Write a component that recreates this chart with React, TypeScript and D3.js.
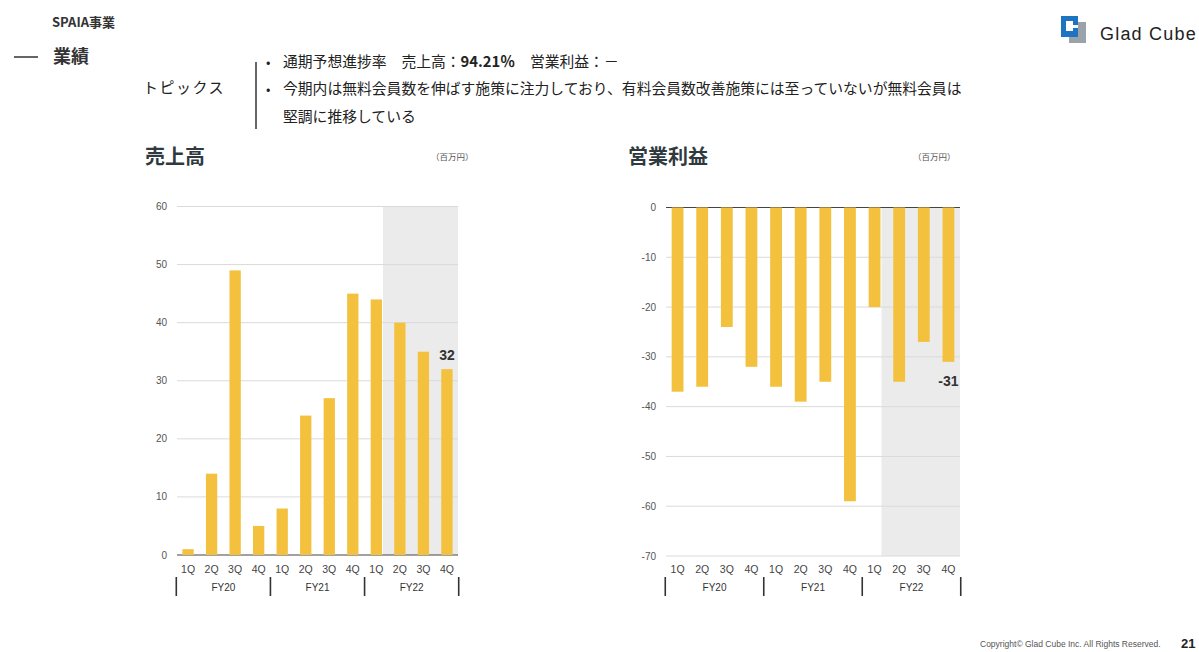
import React from "react";
import * as d3 from "d3";

const quarters = ["1Q", "2Q", "3Q", "4Q", "1Q", "2Q", "3Q", "4Q", "1Q", "2Q", "3Q", "4Q"];
const fiscalYears = ["FY20", "FY21", "FY22"];
const salesValues = [1, 14, 49, 5, 8, 24, 27, 45, 44, 40, 35, 32];
const profitValues = [-37, -36, -24, -32, -36, -39, -35, -59, -20, -35, -27, -31];
const salesTicks = [0, 10, 20, 30, 40, 50, 60];
const profitTicks = [0, -10, -20, -30, -40, -50, -60, -70];

const BAR = "#F3C13E";
const SHADE = "#EBEBEB";
const GRID = "#DADADA";
const JP = "'Noto Sans CJK JP', 'Noto Sans', sans-serif";
const LAT = "'Liberation Sans', Arial, sans-serif";

type ChartProps = {
  title: string;
  titleX: number;
  unitX: number;
  values: number[];
  ticks: number[];
  yDomain: [number, number];
  yRange: [number, number];
  xRange: [number, number];
  tickX: number;
};

function indices(v: number[]) {
  return v.map((_, i) => i);
}

function Chart(p: ChartProps) {
  const x = d3.scaleBand<number>().domain(indices(p.values)).range(p.xRange).paddingInner(0.52).paddingOuter(0.23);
  const y = d3.scaleLinear().domain(p.yDomain).range(p.yRange);
  const bw = x.bandwidth();
  const gap = x.step() - bw;
  const left = p.xRange[0];
  const right = p.xRange[1];
  const top = Math.min(...p.yRange);
  const bottom = Math.max(...p.yRange);
  const shadeX = (x(8) as number) + bw + 1;
  const seps = [
    (x(0) as number) - gap / 2,
    ((x(3) as number) + bw + (x(4) as number)) / 2,
    ((x(7) as number) + bw + (x(8) as number)) / 2,
    (x(11) as number) + bw + gap / 2,
  ];
  const last = p.values.length - 1;
  const lastV = p.values[last];
  const lastCx = (x(last) as number) + bw / 2;
  return (
    <g>
      <text x={p.titleX} y={164} fontFamily={JP} fontWeight={700} fontSize={20} fill="#2f3a40">{p.title}</text>
      <text x={p.unitX} y={160} fontFamily={JP} fontSize={8.5} fill="#555">（百万円）</text>
      <rect x={shadeX} y={top} width={right - shadeX} height={bottom - top} fill={SHADE} />
      {p.ticks.map((t) => (
        <g key={t}>
          <line x1={left} x2={right} y1={y(t)} y2={y(t)} stroke={t === 0 ? "#444" : GRID} strokeWidth={t === 0 ? 1.2 : 1} />
          <text x={p.tickX} y={y(t) + 3.5} textAnchor="end" fontFamily={LAT} fontSize={10} fill="#555">{t}</text>
        </g>
      ))}
      {p.values.map((v, i) => (
        <rect key={i} x={x(i)} width={bw} y={Math.min(y(0), y(v))} height={Math.abs(y(v) - y(0))} fill={BAR} />
      ))}
      <text
        x={lastCx}
        y={lastV >= 0 ? y(lastV) - 9 : y(lastV) + 24}
        textAnchor="middle"
        fontFamily={LAT}
        fontWeight={700}
        fontSize={14}
        fill="#333"
      >
        {lastV}
      </text>
      {quarters.map((q, i) => (
        <text key={"q" + i} x={(x(i) as number) + bw / 2} y={573} textAnchor="middle" fontFamily={LAT} fontSize={10.5} fill="#444">{q}</text>
      ))}
      {seps.map((s, i) => (
        <line key={"s" + i} x1={s} x2={s} y1={577} y2={596} stroke="#333" strokeWidth={1.6} />
      ))}
      {fiscalYears.map((fy, i) => (
        <text key={fy} x={(seps[i] + seps[i + 1]) / 2} y={591} textAnchor="middle" fontFamily={LAT} fontSize={10} fill="#333">{fy}</text>
      ))}
    </g>
  );
}

export default function App() {
  return (
    <div style={{ position: "fixed", left: 0, top: 0 }}>
      <svg width={1199} height={652} style={{ display: "block", background: "#fff" }}>
        <text x={52} y={27} fontFamily={JP} fontWeight={700} fontSize={13} fill="#333">SPAIA事業</text>
        <line x1={14} x2={38} y1={57} y2={57} stroke="#333" strokeWidth={1.5} />
        <text x={53} y={63} fontFamily={JP} fontWeight={700} fontSize={18} fill="#333">業績</text>
        <text x={143} y={93} fontFamily={JP} fontSize={15} fill="#222" letterSpacing={1.5}>トピックス</text>
        <line x1={256} x2={256} y1={62} y2={129} stroke="#333" strokeWidth={1.5} />
        <text x={266} y={67} fontFamily={JP} fontSize={13} fill="#222">•</text>
        <text x={283} y={67} fontFamily={JP} fontSize={14.8} fill="#222">
          通期予想進捗率　売上高：<tspan fontWeight={700}>94.21％</tspan>　営業利益：－
        </text>
        <text x={266} y={94} fontFamily={JP} fontSize={13} fill="#222">•</text>
        <text x={283} y={94} fontFamily={JP} fontSize={14.8} fill="#222">今期内は無料会員数を伸ばす施策に注力しており、有料会員数改善施策には至っていないが無料会員は</text>
        <text x={283} y={122} fontFamily={JP} fontSize={14.8} fill="#222">堅調に推移している</text>

        {/* logo */}
        <rect x={1069} y={22} width={17} height={21} fill="#9aa3aa" />
        <rect x={1061} y={16} width={17} height={21} fill="#1f74c2" />
        <rect x={1066} y={21} width={7} height={10} fill="#fff" />
        <rect x={1073} y={25} width={5} height={3} fill="#fff" />
        <text x={1100} y={40} fontFamily="'Liberation Sans', sans-serif" fontSize={18} letterSpacing={1.2} fill="#222">Glad Cube</text>

        <Chart
          title="売上高"
          titleX={145}
          unitX={431}
          values={salesValues}
          ticks={salesTicks}
          yDomain={[0, 60]}
          yRange={[555, 206.5]}
          xRange={[177, 458]}
          tickX={167}
        />
        <Chart
          title="営業利益"
          titleX={628}
          unitX={913}
          values={profitValues}
          ticks={profitTicks}
          yDomain={[-70, 0]}
          yRange={[556, 207.5]}
          xRange={[666, 960]}
          tickX={656}
        />

        <text x={980} y={647} fontFamily={LAT} fontSize={8.5} fill="#555">Copyright© Glad Cube Inc. All Rights Reserved.</text>
        <text x={1181} y={648} fontFamily={LAT} fontWeight={700} fontSize={13} fill="#222">21</text>
      </svg>
    </div>
  );
}
